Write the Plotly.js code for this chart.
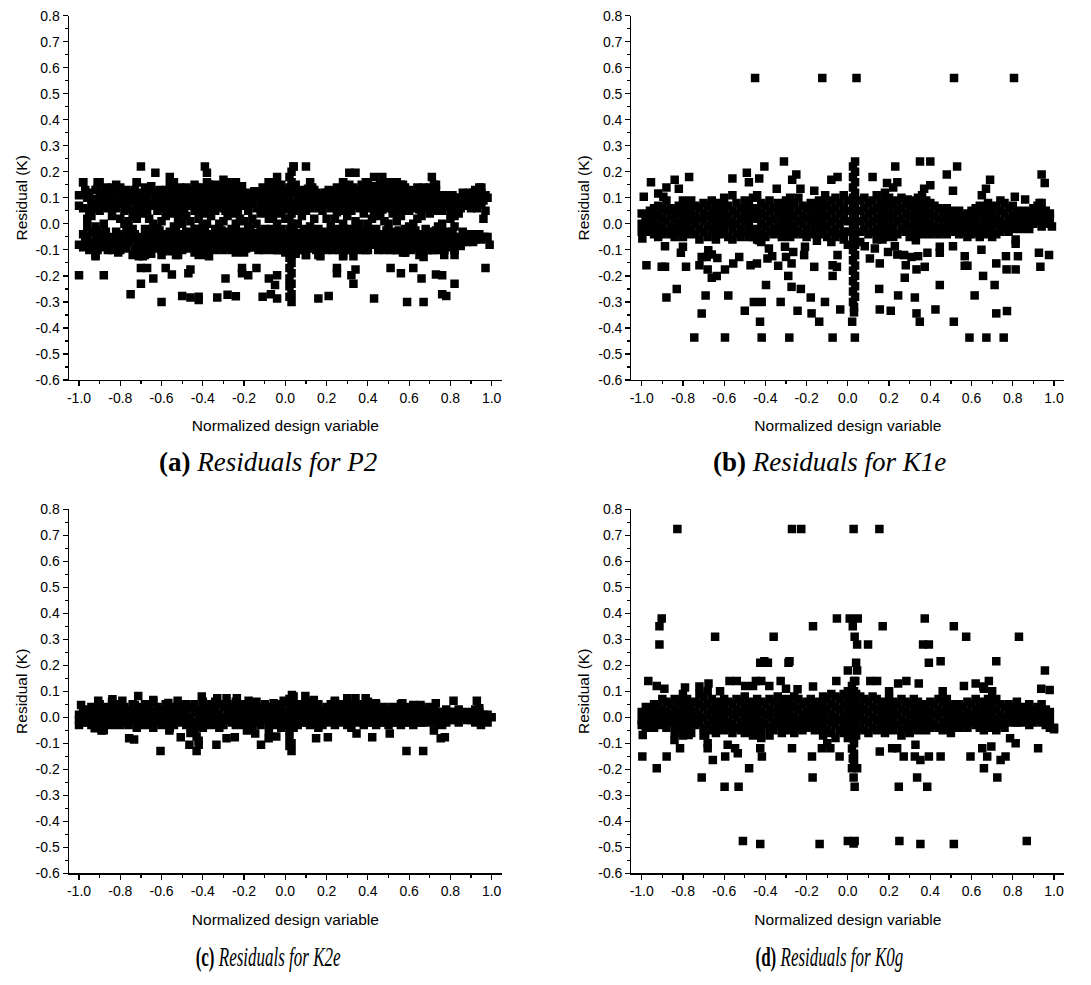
<!DOCTYPE html>
<html>
<head>
<meta charset="utf-8">
<script src="https://cdn.plot.ly/plotly-3.0.1.min.js"></script>
<style>html,body{margin:0;padding:0;background:#fff;}#chart{width:1091px;height:985px;}</style>
</head>
<body>
<div id="chart"></div>
<script>
// Tick labels
const xTickVals = [-1.0,-0.8,-0.6,-0.4,-0.2,0.0,0.2,0.4,0.6,0.8,1.0];
const xTickText = ["-1.0","-0.8","-0.6","-0.4","-0.2","0.0","0.2","0.4","0.6","0.8","1.0"];
const yTickVals = [-0.6,-0.5,-0.4,-0.3,-0.2,-0.1,0.0,0.1,0.2,0.3,0.4,0.5,0.6,0.7,0.8];
const yTickText = ["-0.6","-0.5","-0.4","-0.3","-0.2","-0.1","0.0","0.1","0.2","0.3","0.4","0.5","0.6","0.7","0.8"];
const captions = ["Residuals for P2","Residuals for K1e","Residuals for K2e","Residuals for K0g"];
const captionTags = ["(a)","(b)","(c)","(d)"];

// Panel (a) P2 : each row = [x, y1, y2, ...]
const bandP2 = [
[-1.00,0.11,0.07,-0.08],[-0.98,0.16,0.06,-0.04,-0.09],[-0.96,0.10,0.02,-0.01,-0.05,-0.08],[-0.94,0.08,0.03,-0.03,-0.09],
[-0.92,0.13,0.06,-0.01,-0.06,-0.12],[-0.90,0.16,0.11,0.05,-0.04,-0.08],[-0.88,0.12,0.07,0.0,-0.05,-0.07],[-0.86,0.10,0.06,-0.08,-0.10],
[-0.84,0.14,0.09,0.03,-0.05,-0.10],[-0.82,0.15,0.12,0.06,-0.03,-0.09],[-0.80,0.14,0.08,0.02,-0.06,-0.10],[-0.78,0.12,0.05,0.0,-0.04,-0.09],
[-0.76,0.10,0.06,0.01,-0.07],[-0.74,0.09,0.03,-0.02,-0.06,-0.12],[-0.72,0.16,0.11,0.07,0.02,-0.09],[-0.70,0.10,0.05,-0.05,-0.08],
[-0.68,0.14,0.09,0.04,-0.02,-0.06,-0.12],[-0.66,0.13,0.08,0.02,-0.04,-0.10],[-0.64,0.12,0.07,0.0,-0.06,-0.09],[-0.62,0.11,0.05,-0.02,-0.07],
[-0.60,0.10,0.06,0.01,-0.05,-0.10,-0.12],[-0.58,0.13,0.08,0.03,-0.04,-0.08],[-0.56,0.15,0.09,0.04,-0.03,-0.10],[-0.54,0.16,0.10,0.06,-0.01,-0.06,-0.09],
[-0.52,0.13,0.07,0.02,-0.05,-0.08,-0.12],[-0.50,0.11,0.05,0.0,-0.04,-0.10],[-0.48,0.14,0.09,0.03,-0.03,-0.07],[-0.46,0.13,0.07,0.01,-0.06,-0.09],
[-0.44,0.15,0.10,0.05,-0.02,-0.07,-0.11],[-0.42,0.12,0.08,0.02,-0.04,-0.09,-0.12],[-0.40,0.14,0.09,0.04,-0.01,-0.06,-0.10],[-0.38,0.16,0.11,0.06,0.0,-0.05,-0.12],
[-0.36,0.13,0.08,0.03,-0.04,-0.08],[-0.34,0.15,0.10,0.05,-0.02,-0.07,-0.10],[-0.32,0.12,0.07,0.0,-0.06,-0.09],[-0.30,0.17,0.11,0.06,0.01,-0.05,-0.10],
[-0.28,0.16,0.13,0.08,0.03,-0.03,-0.07],[-0.26,0.14,0.09,0.04,-0.02,-0.06,-0.10],[-0.24,0.16,0.11,0.06,0.0,-0.05,-0.11],[-0.22,0.13,0.08,0.02,-0.04,-0.08],
[-0.20,0.12,0.07,0.01,-0.06,-0.11],[-0.18,0.11,0.05,-0.01,-0.07],[-0.16,0.12,0.08,0.02,-0.04,-0.09],[-0.14,0.10,0.06,0.0,-0.06],
[-0.12,0.12,0.09,0.04,-0.03,-0.08],[-0.10,0.11,0.07,-0.02,-0.06,-0.10],[-0.08,0.16,0.12,0.07,0.02,-0.05,-0.09],[-0.06,0.14,0.09,0.03,-0.03,-0.07,-0.10],
[-0.04,0.18,0.12,0.06,0.0,-0.05,-0.10],[-0.02,0.15,0.10,0.04,-0.02,-0.06,-0.09],[0.00,0.13,0.08,0.02,-0.04,-0.08,-0.11],
[0.02,0.18,0.14,0.10,0.06,0.02,-0.02,-0.06,-0.10,-0.13,-0.17,-0.21,-0.24,-0.28],
[0.03,0.20,0.16,0.12,0.08,0.04,0.0,-0.04,-0.08,-0.12,-0.15,-0.19,-0.23,-0.27,-0.30],
[0.04,0.22,0.12,0.05,-0.03,-0.10],[0.06,0.11,0.06,0.0,-0.06,-0.10],[0.08,0.12,0.08,0.03,-0.05,-0.09],[0.10,0.10,0.05,-0.04,-0.08,-0.12],
[0.12,0.16,0.11,0.06,-0.01,-0.06],[0.14,0.13,0.09,0.02,-0.04,-0.09],[0.16,0.11,0.06,-0.02,-0.07,-0.12],[0.18,0.10,0.05,-0.03,-0.06],
[0.20,0.12,0.08,0.02,-0.05,-0.10],[0.22,0.10,0.06,-0.01,-0.07],[0.24,0.12,0.07,0.02,-0.04,-0.08],[0.26,0.11,0.05,-0.02,-0.06,-0.10],
[0.28,0.16,0.10,0.06,0.0,-0.05,-0.12],[0.30,0.13,0.08,0.03,-0.04,-0.08],[0.32,0.10,0.05,-0.02,-0.07,-0.10],[0.34,0.12,0.07,0.01,-0.05,-0.09],
[0.36,0.11,0.06,0.0,-0.06,-0.10],[0.38,0.13,0.09,0.04,-0.03,-0.08],[0.40,0.16,0.11,0.06,0.0,-0.05,-0.10],[0.42,0.12,0.07,0.02,-0.04,-0.08],
[0.44,0.10,0.05,-0.02,-0.07],[0.46,0.15,0.09,0.03,-0.04,-0.09],[0.48,0.13,0.08,0.01,-0.05,-0.10],[0.50,0.12,0.06,0.0,-0.06,-0.08],
[0.52,0.16,0.10,0.04,-0.03,-0.08],[0.54,0.11,0.07,0.01,-0.05,-0.10],[0.56,0.15,0.09,0.03,-0.04,-0.09],[0.58,0.14,0.08,-0.02,-0.06,-0.11],
[0.60,0.11,0.05,-0.01,-0.07],[0.62,0.10,0.06,0.0,-0.05,-0.09],[0.64,0.14,0.08,0.02,-0.04,-0.08],[0.66,0.13,0.09,0.03,-0.06,-0.10],
[0.68,0.12,0.06,-0.02,-0.05,-0.09],[0.70,0.14,0.10,0.04,-0.03,-0.08],[0.72,0.15,0.09,0.05,-0.04,-0.10],[0.74,0.11,0.06,-0.01,-0.06,-0.09],
[0.76,0.10,0.05,0.0,-0.05],[0.78,0.11,0.07,-0.03,-0.08],[0.80,0.09,0.05,0.02,-0.04,-0.09],[0.82,0.10,0.03,-0.01,-0.05,-0.10],
[0.84,0.08,0.04,-0.06],[0.86,0.12,-0.03,-0.07],[0.88,0.11,0.07,-0.04,-0.07],[0.90,0.10,0.06,-0.05],
[0.92,0.13,0.08,-0.05,-0.06],[0.94,0.14,0.10,-0.04],[0.96,0.09,0.02,-0.05],[0.98,0.10,-0.05],[0.99,-0.08]
];
const fillP2 = [
[-0.97,0.13,-0.065],[-0.95,0.12,0.05,-0.10],[-0.93,0.095,-0.075],[-0.91,0.135,0.08,-0.025,-0.10],[-0.89,0.09,-0.09],
[-0.87,0.14,0.085,-0.03],[-0.85,0.12,-0.065],[-0.83,0.105,-0.075],[-0.81,0.13,-0.045,-0.11],[-0.79,0.10,-0.075],
[-0.77,0.13,0.08,-0.025,-0.095],[-0.75,0.12,-0.045],[-0.73,0.13,0.05,-0.04,-0.10],[-0.71,0.09,-0.065],[-0.69,0.12,0.065,-0.095],
[-0.67,0.105,0.05,-0.075],[-0.65,0.145,-0.025,-0.115],[-0.63,0.09,-0.045,-0.095],[-0.61,0.13,0.08,-0.025,-0.085],[-0.59,0.105,-0.065,-0.105],
[-0.57,0.12,0.065,-0.07],[-0.55,0.13,-0.04,-0.105],[-0.53,0.10,0.045,-0.025,-0.065],[-0.51,0.14,0.08,-0.075],[-0.49,0.115,0.06,-0.095],
[-0.47,0.10,-0.035,-0.075],[-0.45,0.125,0.075,-0.045,-0.095],[-0.43,0.14,0.05,-0.02,-0.065],[-0.41,0.11,0.065,-0.035,-0.08],[-0.39,0.13,0.085,-0.03,-0.09],
[-0.37,0.15,0.10,0.055,-0.065],[-0.35,0.12,0.075,-0.05,-0.095],[-0.33,0.135,0.09,-0.035,-0.075],[-0.31,0.145,0.09,-0.025,-0.075],[-0.29,0.13,0.05,-0.085],
[-0.27,0.115,0.06,-0.045,-0.09],[-0.25,0.14,0.08,-0.03,-0.08],[-0.23,0.10,0.05,-0.065,-0.10],[-0.21,0.145,0.09,-0.03,-0.085],[-0.19,0.08,-0.04,-0.095],
[-0.17,0.10,-0.02,-0.07],[-0.15,0.125,-0.035,-0.09],[-0.13,0.10,0.065,-0.055,-0.10],[-0.11,0.14,0.09,-0.04,-0.08],[-0.09,0.10,0.045,-0.07],
[-0.07,0.135,0.05,-0.02,-0.085],[-0.05,0.15,0.09,-0.03,-0.075],[-0.03,0.13,0.07,-0.04,-0.10],[-0.01,0.11,0.055,-0.065,-0.10],[0.05,0.15,0.08,-0.07,-0.115],
[0.07,0.13,0.085,-0.035,-0.08],[0.09,0.105,0.06,-0.02,-0.065,-0.10],[0.11,0.135,0.08,-0.045,-0.095],[0.13,0.14,0.10,-0.03,-0.075],[0.15,0.12,0.075,-0.06,-0.10],
[0.17,0.085,-0.045,-0.09],[0.19,0.12,0.075,-0.08],[0.21,0.13,0.085,-0.035,-0.085],[0.23,0.125,-0.025,-0.06,-0.10],[0.25,0.14,0.095,0.045,-0.065],
[0.27,0.135,0.08,-0.04,-0.085],[0.29,0.13,0.085,-0.02,-0.07,-0.10],[0.31,0.15,0.105,0.055,-0.06],[0.33,0.14,0.09,-0.035,-0.085],[0.35,0.13,0.085,-0.025,-0.08],
[0.37,0.15,0.10,-0.04,-0.09],[0.39,0.11,0.065,-0.055,-0.10],[0.41,0.135,0.09,-0.025,-0.075],[0.43,0.145,0.10,0.045,-0.06],[0.45,0.13,0.075,-0.045,-0.10],
[0.47,0.115,0.055,-0.07],[0.49,0.14,0.10,-0.025,-0.085],[0.51,0.14,0.08,-0.04,-0.10],[0.53,0.13,0.075,-0.055,-0.10],[0.55,0.13,0.09,0.045,-0.025,-0.075],
[0.57,0.12,0.06,-0.065,-0.11],[0.59,0.11,-0.04,-0.085],[0.61,0.13,0.085,-0.03,-0.10],[0.63,0.12,0.08,-0.025,-0.07],[0.65,0.10,0.055,-0.085,-0.12],
[0.67,0.14,0.06,-0.04,-0.075],[0.69,0.13,0.085,-0.065,-0.10],[0.71,0.12,0.065,-0.055,-0.10],[0.73,0.13,0.075,-0.025,-0.075],[0.75,0.10,-0.03,-0.08,-0.10],
[0.77,0.09,-0.05,-0.10],[0.79,0.10,0.07,-0.06],[0.81,0.11,0.07,-0.03,-0.07],[0.83,0.10,0.06,-0.08],[0.85,0.06,-0.05,-0.085],
[0.87,0.09,-0.05],[0.89,0.12,0.09,-0.06],[0.91,0.08,-0.04,-0.07],[0.93,0.11,0.06,-0.04],[0.95,0.12,0.08,-0.06],[0.97,0.11,0.05,-0.05]
];
const outP2 = [
[-0.70,0.22],[-0.39,0.22],[0.04,0.22],[0.10,0.22],[-0.63,0.196],[-0.38,0.196],[0.31,0.196],[0.34,0.196],
[-0.56,0.18],[0.43,0.18],[0.47,0.18],[0.71,0.18],[-0.98,0.16],[-0.91,0.16],[-0.72,0.16],[-0.55,0.16],[-0.29,0.16],
[-0.24,0.16],[-0.08,0.16],[0.28,0.16],[0.39,0.16],[0.54,0.16],[0.57,0.15],[0.49,0.16],[0.73,0.15],[0.95,0.14],[0.91,0.12],
[-1.00,-0.197],[-0.88,-0.197],[-0.58,-0.17],[-0.55,-0.195],[-0.64,-0.21],[-0.70,-0.17],[-0.67,-0.17],[-0.47,-0.19],[-0.46,-0.175],
[-0.29,-0.21],[-0.21,-0.17],[-0.21,-0.19],[-0.18,-0.197],[-0.14,-0.17],[-0.08,-0.21],[-0.04,-0.197],[-0.05,-0.235],
[0.25,-0.17],[0.25,-0.19],[0.32,-0.197],[0.34,-0.175],[0.33,-0.23],[0.51,-0.17],[0.56,-0.19],[0.62,-0.17],[0.66,-0.21],
[0.73,-0.195],[0.76,-0.197],[0.82,-0.23],[0.97,-0.17],[-0.70,-0.23],
[-0.75,-0.27],[-0.60,-0.30],[-0.50,-0.277],[-0.46,-0.283],[-0.42,-0.293],[-0.42,-0.28],[-0.33,-0.283],[-0.28,-0.272],
[-0.24,-0.278],[-0.11,-0.28],[-0.07,-0.27],[-0.04,-0.287],[0.16,-0.287],[0.21,-0.277],[0.43,-0.287],[0.59,-0.30],
[0.67,-0.30],[0.76,-0.27],[0.78,-0.277],
[-0.92,-0.124],[-0.71,-0.124],[-0.69,-0.124],[-0.53,-0.12],[-0.37,-0.124],[0.10,-0.12],[0.17,-0.124],[0.28,-0.124],
[0.33,-0.124],[0.58,-0.11],[0.67,-0.127],[0.77,-0.12],[0.82,-0.12]
];

// Panel (b) K1e
const bandK1e = [
[-1.00,0.04,0.0,-0.03],[-0.98,0.03,0.01,-0.02],[-0.96,0.05,0.02,-0.01,-0.03],[-0.94,0.06,0.03,0.0,-0.04],
[-0.92,0.07,0.03,-0.01,-0.05],[-0.90,0.06,0.02,-0.02,-0.04],[-0.88,0.09,0.05,0.01,-0.03],[-0.86,0.06,0.03,-0.01,-0.04],
[-0.84,0.05,0.02,-0.02,-0.05],[-0.82,0.07,0.04,0.0,-0.03],[-0.80,0.09,0.05,0.01,-0.02,-0.05],[-0.78,0.08,0.03,-0.01,-0.04],
[-0.76,0.09,0.05,0.02,-0.02],[-0.74,0.07,0.03,0.0,-0.04],[-0.72,0.06,0.02,-0.02,-0.06],[-0.70,0.08,0.04,0.01,-0.03],
[-0.68,0.07,0.03,-0.01,-0.05],[-0.66,0.09,0.05,0.02,-0.02],[-0.64,0.06,0.03,0.0,-0.04,-0.06],[-0.62,0.08,0.04,0.01,-0.03],
[-0.60,0.10,0.06,0.02,-0.01,-0.04],[-0.58,0.07,0.03,0.0,-0.05],[-0.56,0.11,0.05,0.01,-0.02,-0.06],[-0.54,0.08,0.04,0.0,-0.04],
[-0.52,0.06,0.02,-0.02,-0.05],[-0.50,0.09,0.05,0.01,-0.03],[-0.48,0.07,0.03,-0.01,-0.05],[-0.46,0.10,0.05,0.02,-0.02,-0.05],
[-0.44,0.11,0.06,0.02,-0.03,-0.06],[-0.42,0.08,0.04,0.0,-0.04,-0.07],[-0.40,0.07,0.03,-0.01,-0.05],[-0.38,0.09,0.05,0.01,-0.03],
[-0.36,0.06,0.02,-0.02,-0.04],[-0.34,0.08,0.04,0.0,-0.03],[-0.32,0.07,0.03,-0.01,-0.05],[-0.30,0.09,0.05,0.01,-0.02],
[-0.28,0.10,0.06,0.02,-0.02,-0.05],[-0.26,0.08,0.03,-0.01,-0.04],[-0.24,0.10,0.05,0.01,-0.03],[-0.22,0.07,0.03,0.0,-0.04],
[-0.20,0.06,0.02,-0.02,-0.05],[-0.18,0.08,0.04,0.01,-0.03],[-0.16,0.07,0.03,-0.01,-0.04],[-0.14,0.09,0.05,0.01,-0.02],
[-0.12,0.08,0.04,0.0,-0.04],[-0.10,0.07,0.03,-0.01,-0.05],[-0.08,0.09,0.05,0.01,-0.03,-0.07],[-0.06,0.10,0.06,0.02,-0.02,-0.05],
[-0.04,0.08,0.04,0.0,-0.04],[-0.02,0.11,0.06,0.02,-0.03,-0.06],[0.00,0.09,0.05,0.01,-0.03,-0.08],
[0.025,0.22,0.18,0.14,0.10,0.06,0.02,-0.02,-0.06,-0.10,-0.14,-0.18,-0.22,-0.26,-0.30],
[0.035,0.24,0.20,0.16,0.12,0.08,0.04,0.0,-0.04,-0.08,-0.12,-0.16,-0.20,-0.24,-0.28],[0.03,-0.32,-0.34],
[0.06,0.09,0.05,0.01,-0.03,-0.07],[0.08,0.10,0.06,0.02,-0.02],[0.10,0.08,0.04,0.0,-0.04],[0.12,0.09,0.05,0.01,-0.03],
[0.14,0.11,0.06,0.02,-0.02,-0.06],[0.16,0.09,0.04,0.0,-0.04],[0.18,0.12,0.07,0.03,-0.01,-0.05],[0.20,0.10,0.05,0.01,-0.03],
[0.22,0.14,0.08,0.03,-0.02,-0.05],[0.24,0.09,0.05,0.01,-0.04],[0.26,0.10,0.06,0.02,-0.02],[0.28,0.08,0.04,0.0,-0.03],
[0.30,0.07,0.03,-0.01,-0.05],[0.32,0.09,0.05,0.01,-0.03],[0.34,0.10,0.06,0.02,-0.02],[0.36,0.11,0.07,0.03,-0.01,-0.04],
[0.38,0.09,0.05,0.01,-0.03],[0.40,0.08,0.04,0.0,-0.04],[0.42,0.07,0.03,-0.01,-0.03],[0.44,0.06,0.02,-0.02,-0.04],
[0.46,0.05,0.02,-0.01,-0.03],[0.48,0.06,0.03,0.0,-0.04],[0.50,0.05,0.01,-0.02],[0.52,0.04,0.01,-0.03],
[0.54,0.05,0.02,-0.01,-0.04],[0.56,0.03,0.0,-0.03],[0.58,0.04,0.01,-0.02,-0.05],[0.60,0.05,0.02,-0.01,-0.04],
[0.62,0.06,0.03,0.0,-0.03],[0.64,0.07,0.03,-0.01,-0.05],[0.66,0.06,0.02,-0.02,-0.04],[0.68,0.08,0.04,0.0,-0.03],
[0.70,0.06,0.02,-0.01,-0.05],[0.72,0.07,0.03,0.0,-0.04],[0.74,0.09,0.05,0.01,-0.03],[0.76,0.08,0.04,0.0,-0.02],
[0.78,0.06,0.02,-0.01,-0.03],[0.80,0.07,0.03,0.0,-0.02],[0.82,0.05,0.02,-0.01],[0.84,0.04,0.01,-0.02],
[0.86,0.05,0.02,0.0],[0.88,0.04,0.01,-0.02],[0.90,0.06,0.03,0.0],[0.92,0.07,0.04,0.01],
[0.94,0.08,0.05,0.02,-0.01],[0.96,0.05,0.03,0.0],[0.98,0.04,0.02],[0.99,-0.01]
];
const outK1e = [
[-0.45,0.561],[-0.124,0.561],[0.042,0.561],[0.515,0.561],[0.806,0.561],
[-0.31,0.24],[0.35,0.24],[0.40,0.24],[-0.405,0.22],[0.23,0.22],[0.53,0.22],[-0.49,0.196],[-0.25,0.19],[0.48,0.19],[0.94,0.19],
[-0.955,0.16],[-0.84,0.17],[-0.77,0.18],[-0.56,0.174],[-0.48,0.16],[-0.43,0.174],[-0.27,0.17],[-0.08,0.17],[-0.05,0.18],
[0.12,0.18],[0.24,0.16],[0.19,0.157],[0.69,0.17],[0.955,0.157],[-0.82,0.135],[-0.88,0.14],[-0.345,0.135],[-0.23,0.135],
[0.37,0.135],[0.40,0.148],[0.67,0.135],[0.51,0.127],[0.65,0.11],[0.29,0.094],[-0.99,0.104],[-0.92,0.117],[-0.895,0.104],
[-0.163,0.127],[-0.11,0.11],[0.86,0.094],[0.81,0.104],[0.93,0.08],
[-0.745,-0.437],[-0.596,-0.437],[-0.418,-0.437],[-0.284,-0.437],[-0.074,-0.437],[0.034,-0.437],[0.59,-0.437],[0.672,-0.437],[0.756,-0.437],
[-0.426,-0.376],[-0.139,-0.376],[0.021,-0.376],[0.349,-0.376],[0.514,-0.376],
[-0.709,-0.344],[-0.50,-0.334],[-0.244,-0.334],[-0.176,-0.344],[-0.037,-0.329],[0.155,-0.329],[0.208,-0.334],[0.333,-0.344],
[0.425,-0.329],[0.72,-0.344],[0.772,-0.335],
[-0.456,-0.30],[-0.418,-0.30],[-0.326,-0.30],[-0.111,-0.30],
[-0.88,-0.283],[-0.69,-0.275],[-0.58,-0.275],[-0.18,-0.283],[0.244,-0.275],[0.325,-0.283],[0.615,-0.275],
[-0.83,-0.25],[-0.273,-0.242],[-0.228,-0.25],[0.152,-0.25],[0.446,-0.235],[0.712,-0.235],[-0.397,-0.235],
[-0.66,-0.207],[-0.636,-0.20],[-0.289,-0.20],[-0.074,-0.20],[0.276,-0.207],[0.656,-0.20],
[-0.977,-0.159],[-0.903,-0.165],[-0.887,-0.165],[-0.785,-0.165],[-0.72,-0.159],[-0.68,-0.175],[-0.596,-0.175],[-0.556,-0.152],
[-0.472,-0.159],[-0.441,-0.152],[-0.338,-0.161],[-0.273,-0.152],[-0.163,-0.165],[-0.074,-0.159],[-0.053,-0.165],[0.155,-0.152],
[0.281,-0.159],[0.373,-0.165],[0.333,-0.175],[0.567,-0.161],[0.58,-0.161],[0.77,-0.175],[0.72,-0.152],[0.814,-0.175],[0.934,-0.165],
[-0.887,-0.086],[-0.81,-0.111],[-0.80,-0.088],[-0.709,-0.127],[-0.677,-0.101],[-0.685,-0.127],[-0.66,-0.118],[-0.633,-0.131],
[-0.527,-0.127],[-0.43,-0.063],[-0.383,-0.095],[-0.367,-0.124],[-0.39,-0.133],[-0.305,-0.088],[-0.30,-0.127],[-0.265,-0.108],
[-0.212,-0.12],[-0.208,-0.088],[-0.15,-0.065],[-0.05,-0.12],[0.082,-0.086],[0.107,-0.133],[0.131,-0.095],[0.152,-0.044],
[0.168,-0.06],[0.195,-0.108],[0.228,-0.086],[0.24,-0.118],[0.273,-0.12],[0.309,-0.127],[0.33,-0.063],[0.341,-0.124],
[0.386,-0.111],[0.446,-0.088],[0.446,-0.111],[0.51,-0.086],[0.567,-0.124],[0.648,-0.099],[0.767,-0.124],[0.814,-0.06],
[0.814,-0.076],[0.825,-0.124],[0.927,-0.111],[0.976,-0.12],[-0.997,-0.056]
];

// Panel (c) K2e
const bandK2e = [
[-1.00,0.01,-0.01,-0.03],[-0.98,0.02,0.0,-0.02],[-0.96,0.03,0.01,-0.02],[-0.94,0.04,0.01,-0.01,-0.03],
[-0.92,0.03,0.0,-0.02],[-0.90,0.05,0.02,-0.01,-0.03],[-0.88,0.03,0.0,-0.02,-0.05],[-0.86,0.04,0.01,-0.02],
[-0.84,0.06,0.02,-0.01,-0.03],[-0.82,0.05,0.02,-0.01,-0.02],[-0.80,0.03,0.0,-0.03],[-0.78,0.04,0.01,-0.02],
[-0.76,0.03,0.0,-0.03],[-0.74,0.05,0.02,-0.01],[-0.72,0.04,0.01,-0.02,-0.04],[-0.70,0.02,0.0,-0.03],
[-0.68,0.05,0.01,-0.02],[-0.66,0.03,0.0,-0.03],[-0.64,0.06,0.02,-0.01,-0.04],[-0.62,0.04,0.01,-0.02],
[-0.60,0.03,0.0,-0.03],[-0.58,0.05,0.02,-0.01],[-0.56,0.04,0.01,-0.02,-0.04],[-0.54,0.03,0.0,-0.03],
[-0.52,0.05,0.02,-0.01],[-0.50,0.04,0.01,-0.02],[-0.48,0.05,0.02,-0.01,-0.03],[-0.46,0.04,0.0,-0.03,-0.06],
[-0.44,0.05,0.02,-0.02,-0.05],[-0.42,0.03,0.0,-0.03,-0.09],[-0.40,0.06,0.02,-0.01,-0.04],[-0.38,0.05,0.01,-0.02],
[-0.36,0.04,0.0,-0.03],[-0.34,0.06,0.02,-0.01],[-0.32,0.05,0.01,-0.02,-0.04],[-0.30,0.04,0.0,-0.03],
[-0.28,0.05,0.02,-0.01],[-0.26,0.04,0.01,-0.02],[-0.24,0.06,0.02,-0.01,-0.03],[-0.22,0.04,0.0,-0.02],
[-0.20,0.05,0.01,-0.03],[-0.18,0.04,0.02,-0.01],[-0.16,0.03,0.0,-0.02,-0.04],[-0.14,0.04,0.01,-0.02],
[-0.12,0.03,0.0,-0.03],[-0.10,0.05,0.02,-0.01],[-0.08,0.04,0.01,-0.02,-0.05],[-0.06,0.03,0.0,-0.03],
[-0.04,0.05,0.02,-0.01],[-0.02,0.04,0.01,-0.02,-0.04],[0.00,0.06,0.02,-0.01,-0.03],
[0.02,0.07,0.04,0.01,-0.02,-0.05,-0.08,-0.11],[0.04,0.08,0.05,0.02,-0.01,-0.04],[0.06,0.05,0.02,-0.01,-0.03],
[0.08,0.04,0.01,-0.02],[0.10,0.06,0.03,0.0,-0.02],[0.12,0.05,0.02,-0.01,-0.03],[0.14,0.04,0.01,-0.02],
[0.16,0.05,0.02,-0.01,-0.04],[0.18,0.03,0.0,-0.03],[0.20,0.04,0.01,-0.02],[0.22,0.05,0.02,-0.01],
[0.24,0.06,0.02,-0.01,-0.03],[0.26,0.04,0.01,-0.02],[0.28,0.05,0.02,-0.01],[0.30,0.06,0.03,0.0,-0.03],
[0.32,0.04,0.01,-0.02,-0.04],[0.34,0.05,0.02,-0.01],[0.36,0.04,0.01,-0.02],[0.38,0.05,0.02,-0.01,-0.03],
[0.40,0.06,0.03,0.0,-0.02],[0.42,0.04,0.01,-0.02],[0.44,0.05,0.02,-0.01,-0.03],[0.46,0.03,0.0,-0.02],
[0.48,0.04,0.01,-0.02],[0.50,0.03,0.0,-0.03],[0.52,0.04,0.01,-0.02],[0.54,0.03,0.0,-0.02],
[0.56,0.05,0.02,-0.01,-0.03],[0.58,0.04,0.01,-0.02],[0.60,0.03,0.0,-0.02],[0.62,0.04,0.01,-0.02,-0.03],
[0.64,0.03,0.0,-0.02],[0.66,0.04,0.01,-0.02],[0.68,0.03,0.0,-0.02],[0.70,0.04,0.01,-0.01],
[0.72,0.03,0.0,-0.02],[0.74,0.02,0.0,-0.02],[0.76,0.02,0.0,-0.03],[0.78,0.03,0.01,-0.02],
[0.80,0.02,0.0,-0.01],[0.82,0.02,-0.01],[0.84,0.03,0.0,-0.02],[0.86,0.02,0.0],
[0.88,0.01,-0.01],[0.90,0.02,0.0,-0.01],[0.92,0.03,0.01,-0.02],[0.94,0.02,0.0],
[0.96,0.01,-0.01],[0.98,0.01,-0.02],[1.00,0.0]
];
const outK2e = [
[-0.605,-0.13],[-0.43,-0.13],[0.03,-0.13],[0.587,-0.13],[0.668,-0.13],[-0.334,-0.106],[-0.118,-0.106],[-0.465,-0.106],
[-0.42,-0.106],[-0.757,-0.081],[-0.733,-0.085],[-0.507,-0.077],[-0.285,-0.081],[-0.245,-0.077],[-0.081,-0.081],[-0.044,-0.074],
[0.149,-0.081],[0.206,-0.077],[0.421,-0.077],[0.753,-0.081],[0.773,-0.077],[0.506,-0.062],[0.345,-0.062],[-0.891,-0.051],
[-0.562,-0.051],[-0.43,-0.074],[0.03,-0.10],[0.72,-0.051],[-0.186,-0.051],[-0.146,-0.062],[-0.924,-0.042],[0.948,-0.03],
[-0.99,0.047],[-0.907,0.064],[-0.838,0.069],[-0.79,0.064],[-0.713,0.082],[-0.73,0.047],[-0.64,0.067],[-0.522,0.064],
[-0.567,0.055],[-0.405,0.08],[-0.33,0.073],[-0.285,0.073],[-0.235,0.073],[-0.178,0.064],[-0.14,0.06],[-0.057,0.054],
[-0.008,0.064],[0.032,0.086],[0.097,0.082],[0.138,0.067],[0.24,0.064],[0.30,0.073],[0.34,0.073],[0.389,0.073],
[0.438,0.054],[0.567,0.054],[0.62,0.047],[0.655,0.047],[0.729,0.054],[0.815,0.064],[0.928,0.064],[0.94,0.035]
];

// Panel (d) K0g
const bandK0g = [
[-1.00,0.02,-0.01,-0.03],[-0.98,0.04,0.01,-0.02,-0.04],[-0.96,0.03,0.0,-0.03],[-0.94,0.05,0.02,-0.01,-0.04],
[-0.92,0.04,0.01,-0.02],[-0.90,0.07,0.03,0.0,-0.03],[-0.88,0.06,0.02,-0.01,-0.04],[-0.86,0.05,0.01,-0.02],
[-0.84,0.07,0.03,0.0,-0.03,-0.06],[-0.82,0.06,0.02,-0.01,-0.04],[-0.80,0.09,0.04,0.0,-0.03,-0.07],[-0.78,0.07,0.03,-0.01,-0.05],
[-0.76,0.05,0.02,-0.02,-0.06],[-0.74,0.06,0.02,-0.01,-0.03],[-0.72,0.09,0.05,0.01,-0.02],[-0.70,0.08,0.04,0.0,-0.04,-0.07],
[-0.68,0.10,0.05,0.01,-0.03,-0.10],[-0.66,0.07,0.03,-0.01,-0.05],[-0.64,0.06,0.02,-0.02,-0.06],[-0.62,0.05,0.01,-0.03],
[-0.60,0.07,0.03,-0.01,-0.05],[-0.58,0.06,0.02,-0.02,-0.04],[-0.56,0.05,0.01,-0.03,-0.06],[-0.54,0.07,0.03,0.0,-0.04],
[-0.52,0.06,0.02,-0.02,-0.05],[-0.50,0.08,0.04,0.0,-0.03,-0.06],[-0.48,0.06,0.02,-0.01,-0.05],[-0.46,0.05,0.01,-0.03,-0.07],
[-0.44,0.07,0.03,0.0,-0.04],[-0.42,0.06,0.02,-0.02,-0.05,-0.08],[-0.40,0.05,0.01,-0.03],[-0.38,0.07,0.03,0.0,-0.04,-0.07],
[-0.36,0.06,0.02,-0.02,-0.05],[-0.34,0.08,0.04,0.0,-0.03],[-0.32,0.05,0.01,-0.02,-0.06],[-0.30,0.07,0.03,0.0,-0.04],
[-0.28,0.06,0.02,-0.01,-0.05],[-0.26,0.08,0.04,0.0,-0.03,-0.06],[-0.24,0.07,0.03,-0.01,-0.04],[-0.22,0.05,0.01,-0.02,-0.05],
[-0.20,0.06,0.02,-0.01,-0.04],[-0.18,0.07,0.03,0.0,-0.03],[-0.16,0.05,0.01,-0.02,-0.05],[-0.14,0.06,0.02,-0.01,-0.04],
[-0.12,0.08,0.04,0.0,-0.03,-0.07],[-0.10,0.07,0.03,-0.01,-0.05,-0.10],[-0.08,0.09,0.05,0.01,-0.02,-0.06],[-0.06,0.08,0.04,0.0,-0.03,-0.08],
[-0.04,0.07,0.03,-0.01,-0.05],[-0.02,0.09,0.05,0.01,-0.03,-0.06],[0.00,0.10,0.06,0.02,-0.02,-0.05,-0.08],
[0.02,0.12,0.08,0.04,0.0,-0.04,-0.08,-0.12],[0.03,0.14,0.10,0.06,0.02,-0.02,-0.06,-0.10,-0.14,-0.17],
[0.04,0.09,0.05,0.01,-0.03,-0.07],[0.06,0.08,0.04,0.0,-0.04],[0.08,0.07,0.03,-0.01,-0.05],[0.10,0.06,0.02,-0.02,-0.06],
[0.12,0.08,0.04,0.0,-0.04],[0.14,0.07,0.03,-0.01,-0.05],[0.16,0.06,0.02,-0.02,-0.04],[0.18,0.05,0.01,-0.03,-0.06],
[0.20,0.07,0.03,0.0,-0.04],[0.22,0.06,0.02,-0.02,-0.05],[0.24,0.05,0.01,-0.03],[0.26,0.07,0.03,-0.01,-0.05,-0.07],
[0.28,0.06,0.02,-0.02,-0.04],[0.30,0.05,0.01,-0.03,-0.06],[0.32,0.07,0.03,0.0,-0.04],[0.34,0.06,0.02,-0.02,-0.05],
[0.36,0.05,0.01,-0.03],[0.38,0.04,0.0,-0.02,-0.05],[0.40,0.06,0.02,-0.01,-0.04],[0.42,0.05,0.01,-0.03],
[0.44,0.07,0.03,0.0,-0.04],[0.46,0.06,0.02,-0.02,-0.05],[0.48,0.07,0.03,0.0,-0.03],[0.50,0.05,0.01,-0.02,-0.06],
[0.52,0.04,0.0,-0.03],[0.54,0.05,0.01,-0.02,-0.04],[0.56,0.04,0.0,-0.03],[0.58,0.06,0.02,-0.01,-0.04],
[0.60,0.05,0.01,-0.02],[0.62,0.07,0.03,0.0,-0.03],[0.64,0.06,0.02,-0.01,-0.04],[0.66,0.05,0.01,-0.02,-0.05],
[0.68,0.07,0.03,0.0,-0.03],[0.70,0.06,0.02,-0.02,-0.04],[0.72,0.07,0.03,-0.01,-0.05],[0.74,0.05,0.01,-0.03],
[0.76,0.04,0.0,-0.02,-0.04],[0.78,0.05,0.02,-0.01],[0.80,0.04,0.01,-0.02],[0.82,0.06,0.03,0.0,-0.02],
[0.84,0.03,0.0,-0.02],[0.86,0.04,0.01,-0.01],[0.88,0.05,0.02,0.0,-0.03],[0.90,0.03,0.0,-0.02],
[0.92,0.04,0.01,-0.01],[0.94,0.05,0.02,-0.02],[0.96,0.03,0.0,-0.03],[0.98,0.02,-0.01,-0.04],[1.00,-0.04]
];
const outK0g = [
[-0.827,0.724],[-0.271,0.724],[-0.226,0.724],[0.028,0.724],[0.153,0.724],
[-0.903,0.38],[-0.053,0.38],[0.009,0.38],[0.048,0.38],[0.373,0.38],
[-0.914,0.35],[-0.169,0.35],[0.024,0.35],[0.169,0.35],[0.514,0.35],
[-0.644,0.31],[-0.36,0.31],[0.033,0.31],[0.574,0.31],[0.83,0.31],
[-0.914,0.28],[0.045,0.28],[0.098,0.28],[0.365,0.28],[0.393,0.28],
[-0.425,0.21],[-0.388,0.21],[-0.288,0.21],[-0.283,0.216],[0.04,0.21],[0.393,0.21],[0.45,0.216],[0.72,0.216],[-0.405,0.216],
[0.0,0.18],[0.045,0.18],[0.956,0.18],
[-0.968,0.14],[-0.927,0.12],[-0.89,0.11],[-0.79,0.115],[-0.72,0.118],[-0.676,0.13],[-0.574,0.14],[-0.539,0.14],[-0.498,0.12],
[-0.446,0.14],[-0.42,0.14],[-0.381,0.12],[-0.326,0.14],[-0.244,0.108],[-0.169,0.118],[-0.056,0.14],[0.036,0.14],[0.109,0.14],
[0.142,0.14],[0.244,0.13],[0.284,0.14],[0.344,0.13],[0.563,0.12],[0.62,0.13],[0.684,0.14],[0.657,0.118],[0.938,0.11],[0.979,0.105],
[-0.62,0.10],[-0.46,0.12],[-0.30,0.11],[0.20,0.10],[0.46,0.10],[0.66,0.11],[0.70,0.10],
[-0.509,-0.476],[-0.425,-0.487],[-0.137,-0.487],[0.0,-0.476],[0.028,-0.485],[0.033,-0.476],[0.25,-0.476],[0.352,-0.487],
[0.514,-0.487],[0.868,-0.476],
[-0.598,-0.267],[-0.53,-0.267],[0.033,-0.267],[0.247,-0.267],[0.385,-0.267],
[-0.709,-0.232],[-0.171,-0.232],[0.028,-0.232],[0.336,-0.232],[0.725,-0.232],
[-0.927,-0.196],[-0.479,-0.196],[0.02,-0.196],[0.045,-0.196],[0.66,-0.196],
[-0.997,-0.151],[-0.879,-0.151],[-0.655,-0.164],[-0.595,-0.151],[-0.534,-0.138],[-0.417,-0.151],[-0.174,-0.151],[-0.04,-0.151],
[0.024,-0.158],[0.155,-0.132],[0.271,-0.151],[0.325,-0.151],[0.352,-0.164],[0.393,-0.151],[0.45,-0.151],[0.595,-0.151],
[0.676,-0.151],[0.741,-0.164],[0.765,-0.151],
[-0.814,-0.119],[-0.68,-0.119],[-0.583,-0.106],[-0.547,-0.119],[-0.425,-0.119],[-0.271,-0.119],[-0.126,-0.119],[-0.085,-0.119],
[0.215,-0.119],[0.239,-0.119],[0.328,-0.106],[0.652,-0.119],[0.923,-0.119],[0.814,-0.10],[0.696,-0.112],
[-0.995,-0.068],[-0.841,-0.087],[-0.773,-0.068],[-0.692,-0.068],[0.787,-0.081],[1.0,-0.046]
];

function flatten(colGroups, pairs) {
  const x = [], y = [];
  colGroups.forEach(cols => cols.forEach(c => { for (let i = 1; i < c.length; i++) { x.push(c[0]); y.push(c[i]); } }));
  pairs.forEach(p => { x.push(p[0]); y.push(p[1]); });
  return {x, y};
}

const panels = [
  flatten([bandP2, fillP2], outP2),
  flatten([bandK1e], outK1e),
  flatten([bandK2e], outK2e),
  flatten([bandK0g], outK0g)
];
const axisIds = ['', '2', '3', '4'];

const traces = panels.map((d, i) => ({
  type: 'scatter', mode: 'markers', x: d.x, y: d.y,
  xaxis: 'x' + axisIds[i], yaxis: 'y' + axisIds[i],
  marker: {symbol: 'square', size: 8.5, color: '#000', line: {width: 0}},
  hoverinfo: 'x+y', showlegend: false
}));

const tickFont = {family: 'Liberation Sans, Arial, sans-serif', size: 14, color: '#000'};
const titleFont = {family: 'Liberation Sans, Arial, sans-serif', size: 15.5, color: '#000'};

function xAxis(domain, anchor) {
  return {
    domain: domain, anchor: anchor, range: [-1.05, 1.05], fixedrange: true,
    tickmode: 'array', tickvals: xTickVals, ticktext: xTickText,
    ticks: 'outside', ticklen: 5, tickwidth: 1.2, tickcolor: '#000',
    minor: {ticks: 'outside', ticklen: 3, tickwidth: 1.2, tickcolor: '#000', dtick: 0.1, tick0: 0},
    showline: true, linecolor: '#000', linewidth: 1.2, showgrid: false, zeroline: false,
    tickfont: tickFont,
    title: {text: 'Normalized design variable', font: titleFont, standoff: 15}
  };
}
function yAxis(domain, anchor) {
  return {
    domain: domain, anchor: anchor, range: [-0.6, 0.8], fixedrange: true,
    tickmode: 'array', tickvals: yTickVals, ticktext: yTickText,
    ticks: 'outside', ticklen: 5, tickwidth: 1.2, tickcolor: '#000',
    minor: {ticks: 'outside', ticklen: 3, tickwidth: 1.2, tickcolor: '#000', dtick: 0.05, tick0: 0},
    showline: true, linecolor: '#000', linewidth: 1.2, showgrid: false, zeroline: false,
    tickfont: tickFont,
    title: {text: 'Residual (K)', font: titleFont, standoff: 4}
  };
}

const W = 1091, H = 985;
const colL = [68.7 / W, 502 / W];
const colR = [631.4 / W, 1064.3 / W];
const rowT = [1 - 380 / H, 1 - 15.7 / H];
const rowB = [1 - 873.3 / H, 1 - 509.3 / H];

const capPos = [[268, 462], [829, 462], [268, 957], [829, 957]];
const annotations = capPos.map((p, i) => ({
  xref: 'paper', yref: 'paper', x: p[0] / W, y: 1 - p[1] / H,
  xanchor: 'center', yanchor: 'middle', showarrow: false,
  text: '<b>' + captionTags[i] + '</b> <i>' + captions[i] + '</i>',
  font: {family: 'Liberation Serif, Times New Roman, serif', size: 27, color: '#000'}
}));

const layout = {
  width: W, height: H, margin: {l: 0, r: 0, t: 0, b: 0},
  paper_bgcolor: '#fff', plot_bgcolor: '#fff', showlegend: false,
  xaxis: xAxis(colL, 'y'), yaxis: yAxis(rowT, 'x'),
  xaxis2: xAxis(colR, 'y2'), yaxis2: yAxis(rowT, 'x2'),
  xaxis3: xAxis(colL, 'y3'), yaxis3: yAxis(rowB, 'x3'),
  xaxis4: xAxis(colR, 'y4'), yaxis4: yAxis(rowB, 'x4'),
  annotations: annotations
};

Plotly.newPlot('chart', traces, layout, {displayModeBar: false, staticPlot: true}).then(gd => {
  // bottom-row captions are horizontally condensed in the reference
  const texts = gd.querySelectorAll('.annotation-text');
  [2, 3].forEach(i => {
    const t = texts[i];
    if (!t) return;
    const bb = t.getBBox();
    const cx = bb.x + bb.width / 2;
    t.setAttribute('transform', 'translate(' + cx + ',0) scale(0.63,1) translate(' + (-cx) + ',0)');
  });
});
</script>
</body>
</html>
